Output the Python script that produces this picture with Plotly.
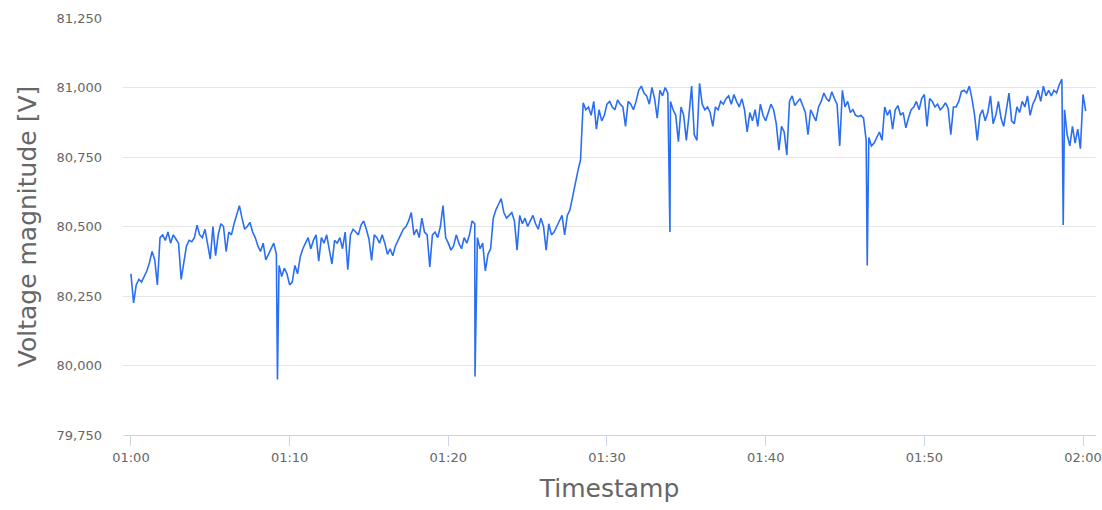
import pandas as pd
import plotly.graph_objects as go

# voltage samples, one every 10 s (one row = 1 minute)
v_0100 = [
    80330, 80225, 80290, 80310, 80300, 80320,
    80340, 80370, 80410, 80380, 80290, 80460,
    80470, 80450, 80480, 80440, 80470, 80455,
    80440, 80310, 80380, 80430, 80450, 80445,
    80460, 80505, 80470, 80460, 80490, 80440,
    80383, 80500, 80395, 80470, 80510, 80500,
    80410, 80480, 80470, 80510, 80540, 80575,
    80530, 80490, 80500, 80515, 80480, 80460,
    80430, 80410, 80440, 80380, 80400, 80420,
    80440, 80400, 80360, 80320, 80350, 80330,
]
v_0110 = [
    80290, 80300, 80360, 80330, 80390, 80420,
    80440, 80460, 80420, 80450, 80470, 80375,
    80460, 80440, 80470, 80410, 80365, 80450,
    80440, 80460, 80420, 80480, 80345, 80470,
    80490, 80480, 80470, 80505, 80520, 80490,
    80455, 80378, 80470, 80460, 80440, 80470,
    80440, 80400, 80420, 80395, 80430, 80450,
    80470, 80490, 80500, 80520, 80550, 80470,
    80490, 80460, 80530, 80480, 80470, 80355,
    80470, 80480, 80460, 80500, 80575, 80460,
]
v_0120 = [
    80440, 80415, 80430, 80470, 80440, 80420,
    80460, 80440, 80470, 80520, 80510, 80460,
    80420, 80440, 80340, 80400, 80420, 80530,
    80560, 80580, 80600, 80550, 80530, 80540,
    80550, 80520, 80415, 80540, 80510, 80530,
    80500, 80520, 80540, 80510, 80490, 80530,
    80500, 80415, 80510, 80470, 80480, 80500,
    80520, 80540, 80470, 80540, 80560, 80610,
    80660, 80700, 80740, 80945, 80920, 80930,
    80900, 80950, 80850, 80920, 80880, 80900,
]
v_0130 = [
    80940, 80950, 80930, 80920, 80955, 80940,
    80930, 80860, 80950, 80940, 80920, 80950,
    80990, 81005, 80980, 80970, 80940, 81000,
    80960, 80890, 80990, 80970, 81000, 80980,
    80950, 80920, 80900, 80805, 80930, 80900,
    80810, 80900, 81005, 80830, 80810, 81015,
    80940, 80920, 80930, 80910, 80860, 80930,
    80920, 80950, 80940, 80960, 80970, 80940,
    80975, 80950, 80930, 80960, 80920, 80840,
    80910, 80880, 80920, 80860, 80940, 80900,
]
v_0140 = [
    80880, 80910, 80940, 80920, 80870, 80775,
    80860, 80840, 80757, 80950, 80970, 80935,
    80950, 80960, 80935, 80910, 80830, 80920,
    80900, 80880, 80930, 80950, 80980, 80960,
    80950, 80985, 80960, 80940, 80790, 80990,
    80930, 80950, 80910, 80920, 80900, 80895,
    80900, 80890, 80810, 80820, 80790, 80800,
    80820, 80840, 80810, 80930, 80900, 80920,
    80850, 80920, 80935, 80900, 80910, 80855,
    80890, 80920, 80930, 80950, 80920, 80960,
]
v_0150 = [
    80975, 80860, 80960, 80950, 80930, 80940,
    80920, 80930, 80945, 80925, 80830, 80930,
    80930, 80950, 80985, 80990, 80980, 81005,
    80960, 80900, 80810, 80900, 80920, 80880,
    80910, 80970, 80870, 80900, 80950, 80890,
    80860, 80920, 80980, 80880, 80870, 80930,
    80910, 80950, 80930, 80970, 80900, 80940,
    80960, 80990, 80950, 81005, 80970, 80990,
    80970, 80990, 80980, 81010, 81030, 80920,
    80830, 80790, 80860, 80800, 80850, 80780,
]
v_0200 = [80975, 80915]

# single-sample drops (seconds after 01:00)
spike_secs = [554, 1301, 2038, 2784, 3525]
spike_volts = [79950, 79960, 80480, 80360, 80505]

y_ticks = [79750, 80000, 80250, 80500, 80750, 81000, 81250]

start = pd.Timestamp("2021-01-01 01:00:00")
volts = v_0100 + v_0110 + v_0120 + v_0130 + v_0140 + v_0150 + v_0200

df = pd.DataFrame(dict(
    time=pd.date_range(start, periods=len(volts), freq="10s"),
    volt=volts,
))
spikes = pd.DataFrame(dict(
    time=[start + pd.Timedelta(seconds=s) for s in spike_secs],
    volt=spike_volts,
))
df = pd.concat([df, spikes]).sort_values(by="time")

fig = go.Figure()
fig.add_trace(go.Scatter(
    x=df["time"], y=df["volt"], mode="lines",
    line=dict(color="#2b6ff0", width=1.6),
))

grey = "#666666"
fig.update_layout(
    width=1102, height=510,
    margin=dict(l=123, r=6, t=18, b=75, autoexpand=False),
    plot_bgcolor="white", paper_bgcolor="white",
    showlegend=False,
    font=dict(family="DejaVu Sans", color=grey, size=13),
)
fig.update_xaxes(
    type="date",
    range=[start - pd.Timedelta(seconds=30), start + pd.Timedelta(seconds=3649)],
    tickvals=[start + pd.Timedelta(minutes=m) for m in range(0, 61, 10)],
    tickformat="%H:%M",
    ticks="outside", ticklen=10, tickcolor="#ccd6eb",
    showline=True, linecolor="#ccd6eb", linewidth=1,
    showgrid=False, zeroline=False, automargin=False,
    tickfont=dict(size=13, color=grey),
    title=dict(text="Timestamp", font=dict(size=25, color=grey), standoff=15),
)
fig.update_yaxes(
    range=[79750, 81250],
    tickvals=y_ticks, tickformat=",",
    showgrid=True, gridcolor="#e6e6e6", gridwidth=1,
    zeroline=False, showline=False, automargin=False,
    ticklabelstandoff=20,
    tickfont=dict(size=13, color=grey),
    title=dict(text="Voltage magnitude [V]", font=dict(size=25, color=grey), standoff=12),
)

# drop the default 8px page margin so the figure fills the window
fig.write_html(
    "out.html",
    config={"displayModeBar": False},
    post_script="document.body.style.margin='0';",
)
